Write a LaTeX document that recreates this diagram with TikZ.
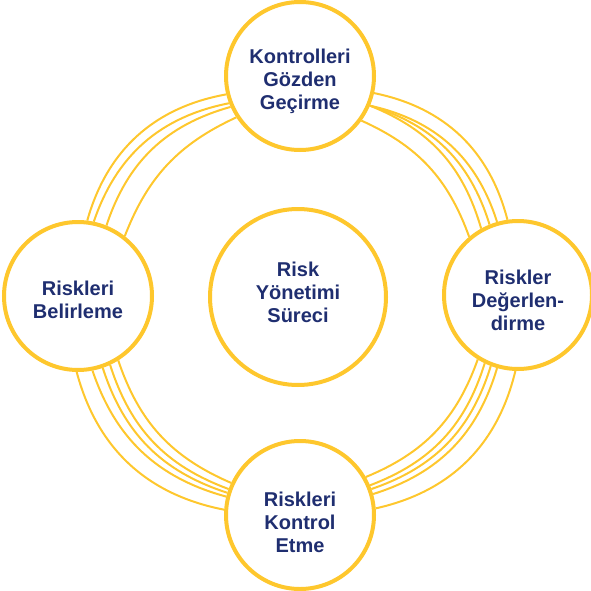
\documentclass[tikz,border=0pt]{standalone}
\usepackage{fontspec}
\setmainfont{Liberation Sans}
\definecolor{ringyellow}{RGB}{254,199,45}
\definecolor{navy}{RGB}{31,46,112}
\pgfdeclarelayer{bg}
\pgfsetlayers{bg,main}
\tikzset{
  ring/.style={draw=ringyellow, line width=2pt},
  stage/.style={circle, draw=ringyellow, line width=4pt, fill=white,
    minimum size=148pt, inner sep=0pt},
  hub/.style={stage, minimum size=176pt},
  txt/.style={align=center, text=navy, inner sep=0pt,
    font=\bfseries\fontsize{20}{23}\selectfont}
}
\begin{document}
\begin{tikzpicture}[x=1pt,y=1pt]
\useasboundingbox (0,0) rectangle (591,-591);
\node[hub]   (hubc)   at (298,-297) {};
\node[stage] (top)    at (300,-76)  {};
\node[stage] (right)  at (518,-295) {};
\node[stage] (bottom) at (300,-515) {};
\node[stage] (left)   at (78,-296)  {};
\node[txt] (hubt)    at ([yshift=5pt]hubc.center)    {Risk\\Yönetimi\\Süreci};
\node[txt] (topt)    at ([yshift=-5pt]top.center)    {Kontrolleri\\Gözden\\Geçirme};
\node[txt] (rightt)  at ([yshift=-5pt]right.center)  {Riskler\\Değerlen-\\dirme};
\node[txt] (bottomt) at ([yshift=-7pt]bottom.center) {Riskleri\\Kontrol\\Etme};
\node[txt] (leftt)   at ([yshift=-4pt]left.center)   {Riskleri\\Belirleme};
\begin{pgfonlayer}{bg}
% top -> right
\draw[ring] (top.-13.6) to[bend left=32] (right.98.6);
\draw[ring] (top.-23.7) to[bend left=30] (right.106.5);
\draw[ring] (top.-23.7) to[bend left=28] (right.112.3);
\draw[ring] (top.-23.7) to[bend left=26] (right.119.2);
\draw[ring] (top.-36.3) to[bend left=23] (right.130.4);
% right -> bottom
\draw[ring] (right.-92)  to[bend left=32] (bottom.5);
\draw[ring] (right.-106) to[bend left=28] (bottom.16);
\draw[ring] (right.-111) to[bend left=27] (bottom.20);
\draw[ring] (right.-116) to[bend left=26] (bottom.23);
\draw[ring] (right.-122) to[bend left=24] (bottom.30);
% bottom -> left
\draw[ring] (bottom.176)   to[bend left=32] (left.-91);
\draw[ring] (bottom.166)   to[bend left=28] (left.-79);
\draw[ring] (bottom.163.5) to[bend left=27] (left.-71.5);
\draw[ring] (bottom.160)   to[bend left=26] (left.-65);
\draw[ring] (bottom.155.6) to[bend left=24] (left.-58.5);
% left -> top
\draw[ring] (left.83) to[bend left=32] (top.194.5);
\draw[ring] (left.78) to[bend left=30] (top.201);
\draw[ring] (left.68) to[bend left=28] (top.204);
\draw[ring] (left.52) to[bend left=22] (top.213);
\end{pgfonlayer}
\end{tikzpicture}
\end{document}
